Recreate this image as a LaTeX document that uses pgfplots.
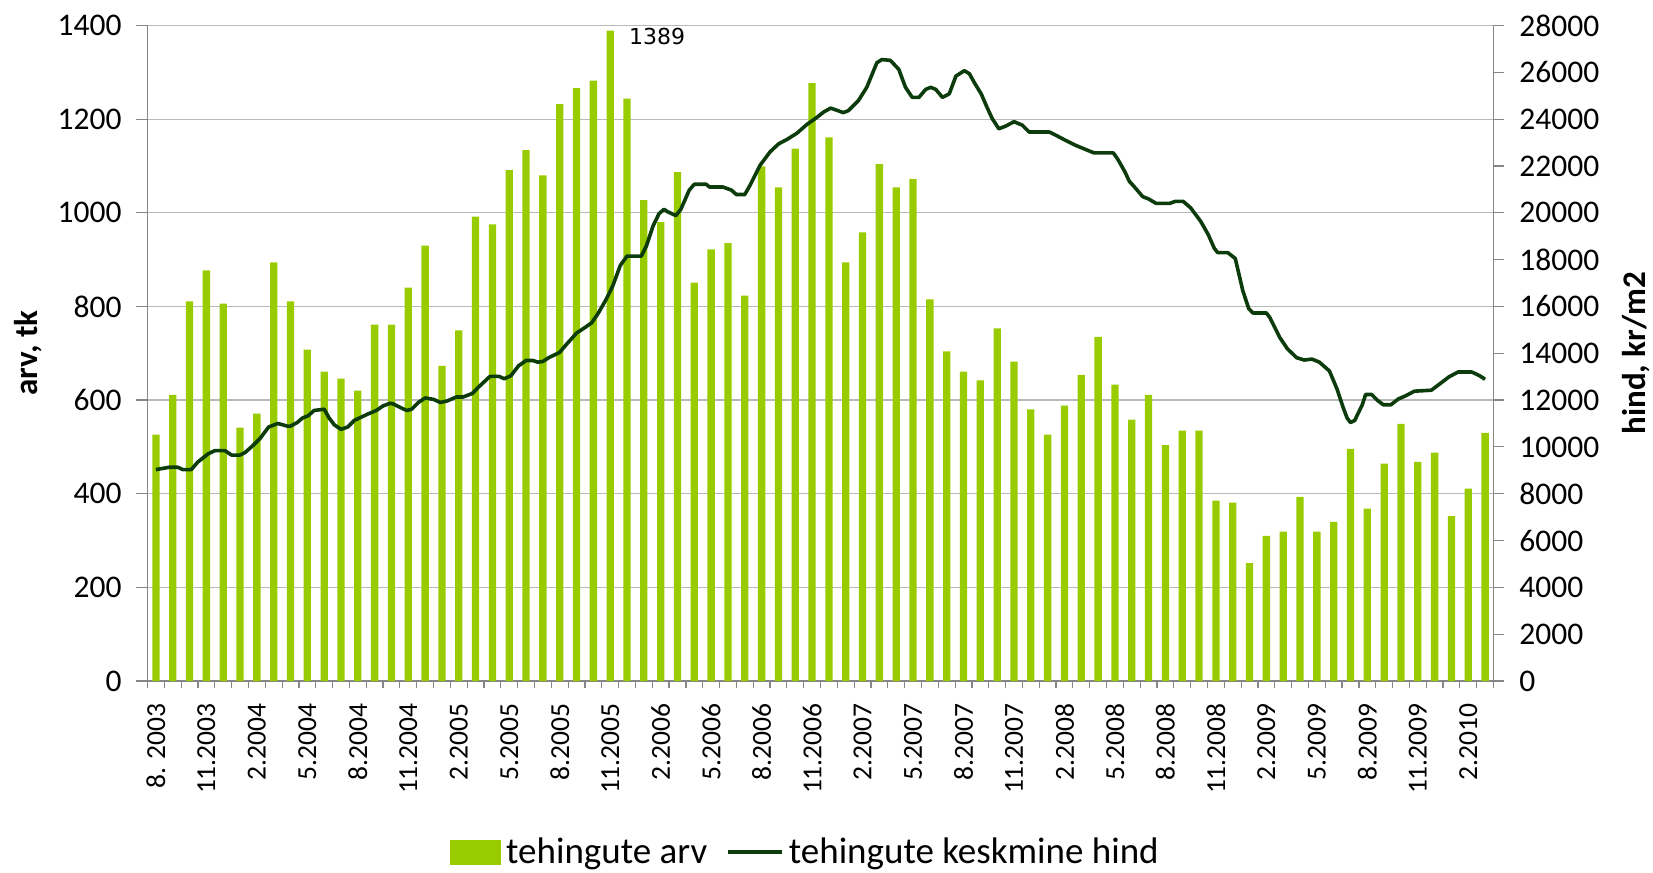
\documentclass[border=0pt]{standalone}
\usepackage{pgfplots}
\pgfplotsset{compat=1.18}
\usepackage{fontspec}
\setmainfont{Carlito}
\newfontfamily\dejavu{DejaVu Sans}
\definecolor{barcol}{RGB}{153,204,0}
\definecolor{linecol}{RGB}{12,60,12}
\definecolor{gridcol}{RGB}{185,185,185}
\definecolor{axiscol}{RGB}{134,134,134}
\begin{document}
\begin{tikzpicture}
\pgfplotsset{
  common/.style={
    at={(0pt,0pt)}, anchor=south west,
    width=673pt, height=327.75pt, scale only axis,
    xmin=-0.5, xmax=79.5,
    scaled ticks=false,
    /pgf/number format/assume math mode=true,
    /pgf/number format/1000 sep={},
    tick align=outside,
    axis line style={draw=axiscol, line width=0.6pt},
    every tick/.style={draw=axiscol, line width=0.6pt},
    tick label style={font=\fontsize{15.75}{18}\selectfont},
  }
}
\begin{axis}[common,
  ymin=0, ymax=1400,
  ytick={0,200,...,1400},
  axis x line*=bottom, axis y line*=left,
  xtick={0,3,...,78},
  xticklabels={8. 2003,11.2003,2.2004,5.2004,8.2004,11.2004,2.2005,5.2005,8.2005,11.2005,2.2006,5.2006,8.2006,11.2006,2.2007,5.2007,8.2007,11.2007,2.2008,5.2008,8.2008,11.2008,2.2009,5.2009,8.2009,11.2009,2.2010},
  minor xtick={-0.5,0.5,...,79.5},
  major x tick style={draw=none},
  major tick length=5.5pt, minor tick length=3.5pt,
  xticklabel style={rotate=90, anchor=east, inner sep=0pt, font=\fontsize{13.75}{16}\selectfont},
  yticklabel style={anchor=east, inner sep=0pt},
  xticklabel shift=5.5pt,
  yticklabel shift=7.25pt,
  ymajorgrids, grid style={draw=gridcol, line width=0.6pt},
  ylabel={arv, tk},
  ylabel style={font=\bfseries\fontsize{16.5}{20}\selectfont, at={(axis description cs:-0.0888,0.5)}, anchor=center},
]
\addplot[ybar, bar width=3.65pt, fill=barcol, draw=none] coordinates {
(0,526) (1,611) (2,811) (3,877) (4,806) (5,541) (6,571) (7,894) (8,811) (9,708)
(10,661) (11,646) (12,620) (13,761) (14,761) (15,840) (16,930) (17,673) (18,749) (19,992)
(20,975) (21,1091) (22,1134) (23,1080) (24,1232) (25,1266) (26,1282) (27,1389) (28,1244) (29,1027)
(30,980) (31,1087) (32,851) (33,922) (34,935) (35,823) (36,1099) (37,1054) (38,1137) (39,1277)
(40,1161) (41,894) (42,958) (43,1104) (44,1054) (45,1072) (46,815) (47,704) (48,661) (49,642)
(50,753) (51,682) (52,580) (53,526) (54,588) (55,654) (56,735) (57,633) (58,558) (59,611)
(60,504) (61,535) (62,535) (63,385) (64,381) (65,252) (66,310) (67,319) (68,393) (69,319)
(70,340) (71,496) (72,368) (73,464) (74,549) (75,468) (76,488) (77,352) (78,411) (79,530)
};
\node[anchor=north west, inner sep=0pt, font=\dejavu\fontsize{11}{13}\selectfont, xshift=9.3pt, yshift=1.3pt] at (axis cs:27,1389) {1389};
\end{axis}
\begin{axis}[common,
  ymin=0, ymax=28000,
  ytick={0,2000,...,28000},
  axis y line*=right, axis x line=none,
  major tick length=5pt,
  yticklabel style={anchor=west, inner sep=0pt},
  yticklabel shift=7.75pt,
  ylabel={hind, kr/m2},
  ylabel style={font=\bfseries\fontsize{16.5}{20}\selectfont, at={(axis description cs:1.1059,0.5)}, anchor=center},
  legend columns=2,
  legend style={at={(axis description cs:0.49,-0.261)}, anchor=center, draw=none, fill=none,
    font=\fontsize{18.5}{22}\selectfont, inner sep=0pt,
    /tikz/every even column/.append style={column sep=7pt},
    nodes={inner sep=2.5pt}},
]
\addlegendimage{legend image code/.code={\fill[barcol] (0pt,-6pt) rectangle (25pt,6pt);}}
\addlegendentry{tehingute arv}
\addplot[linecol, line width=1.8pt, line join=round,
  legend image code/.code={\draw[linecol, line width=1.8pt] (0pt,0pt) -- (27pt,0pt);}] coordinates {
(0,9030) (0.8,9130) (1.3,9130) (1.6,9030) (2.1,9030) (2.5,9360) (3.1,9700) (3.5,9840) (4.1,9840)
(4.5,9650) (5.0,9650) (5.3,9760) (5.8,10080) (6.2,10370) (6.7,10850) (7.25,11000) (7.8,10890)
(8.0,10890) (8.4,11040) (8.7,11230) (9.05,11330) (9.4,11555) (10.0,11610) (10.3,11230) (10.6,10945)
(11.0,10750) (11.4,10850) (11.8,11135) (12.2,11270) (12.65,11420) (13.1,11555) (13.5,11750)
(13.9,11860) (14.1,11840) (14.45,11710) (14.9,11555) (15.2,11610) (15.6,11900) (16.0,12090)
(16.5,12030) (16.9,11900) (17.3,11960) (17.85,12130) (18.25,12130) (18.8,12280) (19.2,12570)
(19.85,13010) (20.4,13010) (20.7,12910) (21.1,13040) (21.55,13460) (22.0,13690) (22.4,13690)
(22.7,13620) (23.0,13650) (23.35,13810) (24.0,14040) (24.4,14380) (25.0,14860) (25.6,15150)
(25.9,15300) (26.3,15720) (26.75,16290) (27.15,16870) (27.6,17750) (28.0,18150) (28.85,18150)
(29.15,18580) (29.55,19440) (29.9,19960) (30.2,20150) (30.4,20050) (30.9,19880) (31.2,20150)
(31.7,20970) (32.0,21220) (32.7,21220) (32.9,21100) (33.7,21100) (34.2,20970) (34.5,20780)
(35.0,20780) (35.3,21160) (35.9,22020) (36.5,22600) (37.0,22940) (37.5,23130) (38.1,23400)
(38.7,23780) (39.2,24030) (39.7,24310) (40.1,24470) (40.35,24410) (40.85,24280) (41.15,24360)
(41.75,24790) (42.25,25360) (42.85,26410) (43.15,26545) (43.65,26510) (44.15,26130) (44.55,25360)
(44.95,24930) (45.35,24930) (45.75,25270) (46.05,25360) (46.35,25270) (46.75,24930) (47.15,25080)
(47.55,25840) (48.05,26070) (48.35,25940) (48.65,25550) (49.05,25080) (49.4,24500) (49.7,24030)
(50.1,23590) (50.5,23700) (51.0,23890) (51.5,23740) (51.9,23450) (53.1,23450) (53.6,23270)
(54.1,23080) (54.6,22900) (55.1,22750) (55.75,22560) (56.9,22560) (57.15,22310) (57.6,21740)
(57.85,21350) (58.2,21070) (58.65,20690) (59.0,20590) (59.45,20400) (60.25,20400) (60.6,20490)
(61.05,20490) (61.5,20210) (62.1,19630) (62.55,19060) (62.9,18490) (63.1,18300) (63.7,18300)
(64.15,18050) (64.35,17440) (64.6,16670) (64.95,15910) (65.2,15720) (66.0,15720) (66.2,15530)
(66.8,14670) (67.25,14190) (67.8,13810) (68.25,13710) (68.7,13750) (69.15,13620) (69.75,13240)
(70.2,12470) (70.55,11710) (70.8,11230) (71.0,11040) (71.25,11130) (71.7,11800) (71.9,12240)
(72.25,12240) (72.6,11990) (72.95,11800) (73.4,11800) (73.85,12050) (74.3,12190) (74.8,12380)
(75.8,12420) (76.25,12660) (76.85,12990) (77.4,13200) (78.2,13200) (78.65,13050) (79.0,12890)
};
\addlegendentry{tehingute keskmine hind}
\end{axis}
\pgfresetboundingbox
\path[use as bounding box] (-73.75pt,-95.5pt) rectangle (752.75pt,340.5pt);
\end{tikzpicture}
\end{document}
